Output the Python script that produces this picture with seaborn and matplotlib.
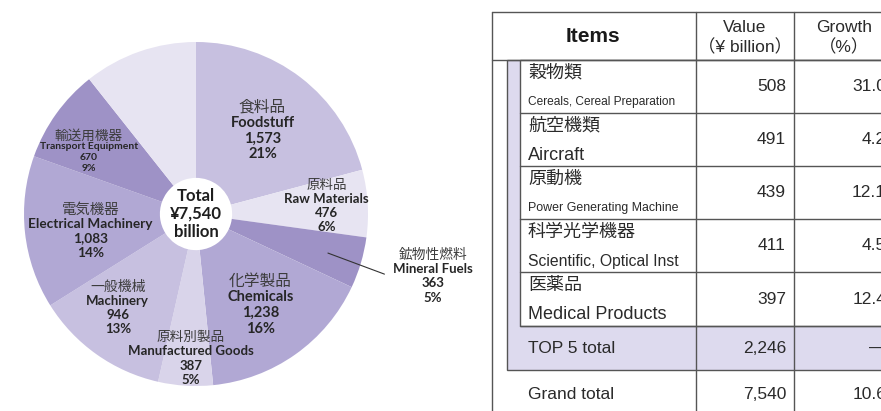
import numpy as np
import matplotlib.pyplot as plt
import seaborn as sns
from matplotlib import font_manager
from matplotlib.patches import Rectangle

# pie: exports by commodity (¥ billion), clockwise from 12 o'clock
cat_ja = ["食料品", "原料品", "鉱物性燃料", "化学製品", "原料別製品",
          "一般機械", "電気機器", "輸送用機器", ""]
cat_en = ["Foodstuff", "Raw Materials", "Mineral Fuels", "Chemicals",
          "Manufactured Goods", "Machinery", "Electrical Machinery",
          "Transport Equipment", ""]
values = [1573, 476, 363, 1238, 387, 946, 1083, 670, 804]  # last slice unlabeled

# table: top 5 items
top_ja = ["穀物類", "航空機類", "原動機", "科学光学機器", "医薬品"]
top_en = ["Cereals, Cereal Preparation", "Aircraft", "Power Generating Machine",
          "Scientific, Optical Inst", "Medical Products"]
top_value = [508, 491, 439, 411, 397]
top_growth = [31.0, 4.2, 12.1, 4.5, 12.4]
top5_total = 2246
grand_total = 7540
grand_growth = 10.6

# styles
light, mid1, mid2, dark, pale = "#e7e4f2", "#c7c0e0", "#b1a8d4", "#9e92c6", "#d9d4ea"
pie_colors = sns.color_palette([mid1, light, dark, mid2, pale, mid1, mid2, dark, light])
label_r = [0.62, 0.76, None, 0.65, 0.84, 0.71, 0.62, 0.72, None]
label_nudge = [-1, 0, 0, 0, 1.5, -4.5, 3, 5.5, 0]
en_size = [10.5, 9.5, 9.5, 10.5, 9.5, 9.5, 9.8, 7.5, 0]
ja_size = [11.3, 9.7, 9.9, 11.3, 9.8, 10, 10.4, 9.8, 0]

sns.set_theme(style="white")
plt.rcParams["font.family"] = ["Lato", "Noto Sans CJK JP", "DejaVu Sans"]
names = {f.name for f in font_manager.fontManager.ttflist}
narrow = "Liberation Sans Narrow" if "Liberation Sans Narrow" in names else "Liberation Sans"
tfont = ["Liberation Sans", "Noto Sans CJK JP"]
jfont = ["Noto Sans CJK JP"]

W, H = 881, 411
fig = plt.figure(figsize=(W / 100, H / 100), dpi=100)

# ---- table layer (pixel coords) ----
tb = fig.add_axes([0, 0, 1, 1])
tb.set_xlim(0, W)
tb.set_ylim(H, 0)
tb.axis("off")

lc = "#555555"
lav = "#dddaee"
x_out, x_box, x_in, x_c1, x_c2 = 492, 507, 520, 696, 794
y_top, y_head = 12, 60
row_edges = [60, 113, 166, 219, 272, 326]
y_box = 370

tb.add_patch(Rectangle((x_box, y_head), W - x_box + 20, y_box - y_head,
                       facecolor=lav, edgecolor=lc, lw=1.0, zorder=1))
tb.add_patch(Rectangle((x_in, y_head), W - x_in + 20, row_edges[-1] - y_head,
                       facecolor="white", edgecolor=lc, lw=1.0, zorder=1.5))
kw = dict(color=lc, lw=1.0, zorder=2)
tb.plot([x_out, x_out], [y_top, H + 5], **kw)
tb.plot([x_out, W + 5], [y_top, y_top], **kw)
tb.plot([x_out, W + 5], [y_head, y_head], **kw)
for xc in (x_c1, x_c2):
    tb.plot([xc, xc], [y_top, H + 5], **kw)
for ye in row_edges[1:]:
    tb.plot([x_in, W + 5], [ye, ye], **kw)

tc = "#2a2a2a"
tb.text(593, 37, "Items", ha="center", va="center", fontsize=15, fontweight="bold",
        family=tfont, color="#1a1a1a")
tb.text(745, 27, "Value", ha="center", va="center", fontsize=12.5, family=tfont, color=tc)
tb.text(745, 47, "（¥ billion）", ha="center", va="center", fontsize=12.5, family=tfont, color=tc)
tb.text(844, 27, "Growth", ha="center", va="center", fontsize=12.5, family=tfont, color=tc)
tb.text(844, 47, "（%）", ha="center", va="center", fontsize=12.5, family=tfont, color=tc)

en_tab_font = [narrow, "Liberation Sans", narrow, "Liberation Sans", "Liberation Sans"]
en_tab_size = [10.5, 13, 10.9, 11.3, 13] if narrow != "Liberation Sans" else [8.6, 13, 8.9, 11.3, 13]
for i in range(len(top_ja)):
    y0 = row_edges[i]
    tb.text(528, y0 + 13, top_ja[i], ha="left", va="center", fontsize=13,
            family=jfont, color=tc)
    tb.text(528, y0 + 42, top_en[i], ha="left", va="center", fontsize=en_tab_size[i],
            family=[en_tab_font[i]], color=tc)
    ym = (row_edges[i] + row_edges[i + 1]) / 2
    tb.text(786, ym, f"{top_value[i]:,}", ha="right", va="center", fontsize=12.5,
            family=tfont, color=tc)
    tb.text(886, ym, f"{top_growth[i]:.1f}", ha="right", va="center", fontsize=12.5,
            family=tfont, color=tc)

y5 = (row_edges[-1] + y_box) / 2
tb.text(528, y5, "TOP 5 total", ha="left", va="center", fontsize=12.5, family=tfont, color=tc)
tb.text(786, y5, f"{top5_total:,}", ha="right", va="center", fontsize=12.5, family=tfont, color=tc)
tb.text(886, y5, "—", ha="right", va="center", fontsize=12.5, family=tfont, color=tc)
yg = 394
tb.text(528, yg, "Grand total", ha="left", va="center", fontsize=12.5, family=tfont, color=tc)
tb.text(786, yg, f"{grand_total:,}", ha="right", va="center", fontsize=12.5, family=tfont, color=tc)
tb.text(886, yg, f"{grand_growth:.1f}", ha="right", va="center", fontsize=12.5, family=tfont, color=tc)

# ---- donut ----
cx, cy, R = 196, 214, 172
ax = fig.add_axes([(cx - R) / W, (H - cy - R) / H, 2 * R / W, 2 * R / H])
wedges, _ = ax.pie(values, colors=pie_colors, startangle=90, counterclock=False,
                   radius=1, wedgeprops=dict(width=0.79, edgecolor="none"))
ax.set_xlim(-1, 1)
ax.set_ylim(-1, 1)
ax.set_aspect("equal")
ax.axis("off")

total = sum(values)
en_c, ja_c = "#262626", "#3c3c3c"


def block(x, y, i):
    sp = en_size[i] * 1.08
    pct = round(values[i] / total * 100)
    lines = [(cat_ja[i], ja_size[i], "normal", ja_c),
             (cat_en[i], en_size[i], "bold", en_c),
             (f"{values[i]:,}", en_size[i], "bold", en_c),
             (f"{pct}%", en_size[i], "bold", en_c)]
    for k, (s, fs, fw, col) in enumerate(lines):
        ax.annotate(s, xy=(x, y), xytext=(0, (1.5 - k) * sp), textcoords="offset points",
                    ha="center", va="center", fontsize=fs, fontweight=fw, color=col,
                    annotation_clip=False)


for i, w in enumerate(wedges):
    mid = (w.theta1 + w.theta2) / 2
    if label_r[i] is not None:
        a = np.deg2rad(mid + label_nudge[i])
        block(label_r[i] * np.cos(a), label_r[i] * np.sin(a), i)
    elif cat_en[i]:
        a0 = np.deg2rad(mid)
        a1 = np.deg2rad(mid - 1.2)
        ax.plot([0.80 * np.cos(a0), 1.15 * np.cos(a1)], [0.80 * np.sin(a0), 1.15 * np.sin(a1)],
                color="#333333", lw=0.8, clip_on=False)
        a2 = np.deg2rad(mid + 1.8)
        block(1.425 * np.cos(a2), 1.425 * np.sin(a2), i)

ax.text(0, 0, f"Total\n¥{total:,}\nbillion", ha="center", va="center", fontsize=12,
        fontweight="bold", color="#1e1e1e", linespacing=1.15)

fig.savefig("out.png", dpi=100)
